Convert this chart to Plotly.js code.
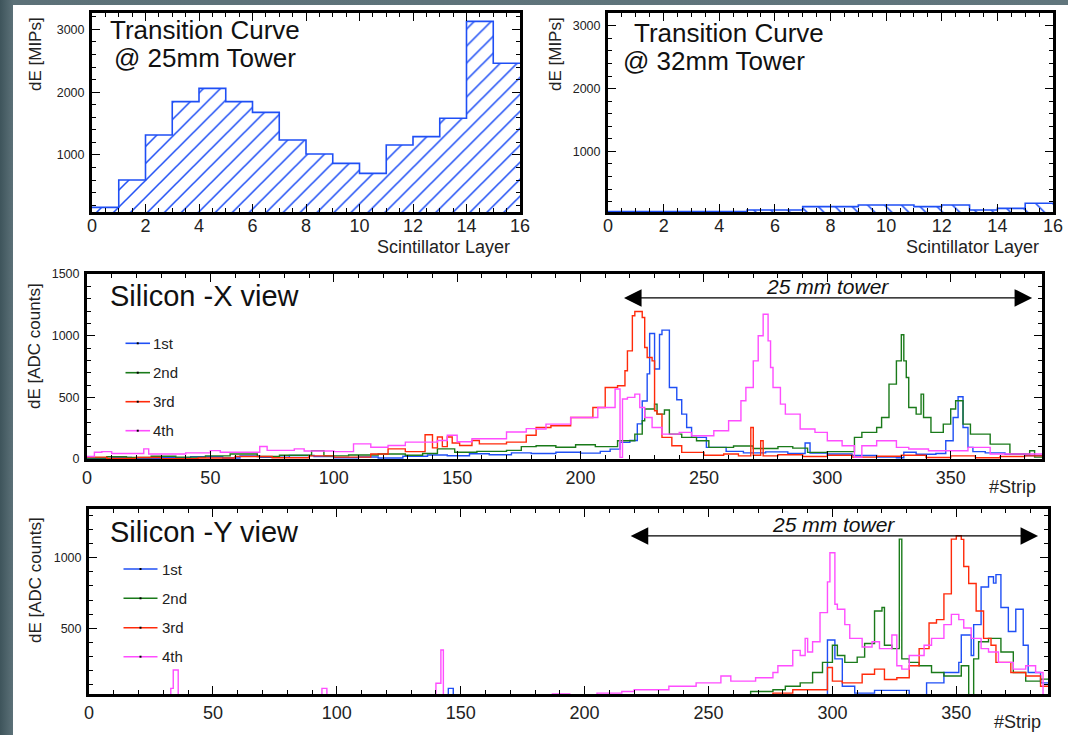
<!DOCTYPE html>
<html><head><meta charset="utf-8">
<script src="https://cdn.plot.ly/plotly-3.0.1.min.js"></script>
<style>
html,body{margin:0;padding:0;width:1068px;height:735px;overflow:hidden;}
body{background:linear-gradient(90deg,#3e545b 0px,#5c7178 13px,#61767d 100%);}
#sheet{position:absolute;left:13px;top:5px;right:0;bottom:0;background:#fff;}
#chart{position:absolute;left:0;top:0;width:1068px;height:735px;}
</style></head><body>
<div id="sheet"></div><div id="chart"></div>
<script>
// ---------- data ----------
const layerEdges = [0,1,2,3,4,5,6,7,8,9,10,11,12,13,14,15,16];
const tc25mm = [167,602,1318,1849,2061,1849,1679,1239,1016,867,708,1159,1292,1584,3127,2459];
const tc32mm = [40,40,40,40,40,67,67,120,120,147,147,120,147,67,93,173];

const seriesNames = ['1st','2nd','3rd','4th'];
const seriesColors = ['#1f4ff5','#1a7a1a','#ff2a0a','#ff4dff'];

// Silicon X view (step breakpoints: strip, dE)
const xv1stStrip = [0,10,18,30,42,55,62,70,82,92,100,110,118,128,138,146,155,163,172,180,190,200,208,212,216,220,223,225,227,228,230,232,233,236,239,241,243,245,251,259,266,275,284,291,293,300,310,320,328,331,336,344,348,351,353,355,357,359,364,372,380,387];
const xv1stADC   = [5,12,4,10,18,8,25,14,28,20,10,16,8,22,32,26,42,35,50,45,55,48,62,80,135,150,285,470,690,1018,730,1010,1045,580,480,364,256,175,94,62,50,58,45,130,48,40,28,15,10,55,38,45,148,337,505,256,94,60,50,38,28,28];
const xv2ndStrip = [0,8,16,26,36,48,58,69,78,91,96,106,118,129,136,142,149,158,170,176,182,190,198,206,215,222,225,226,230,231,234,236,241,247,252,262,270,280,286,292,300,311,314,320,322,325,328,330,331,332,333,336,338,339,342,347,350,352,355,358,366,374,382,384,387];
const xv2ndADC   = [8,18,12,22,15,25,41,20,30,68,25,32,41,30,45,82,55,62,70,100,108,95,115,100,148,202,310,405,445,364,397,202,175,148,94,105,85,100,88,54,60,175,216,256,337,607,796,1007,796,661,418,364,526,337,216,283,405,472,283,202,121,40,67,15,15];
const xv3rdStrip = [0,8,20,30,45,60,75,90,100,115,122,129,137,140,142,144,146,148,151,156,159,170,178,182,188,196,205,210,215,218,219,221,222,225,226,227,229,230,231,233,237,241,250,258,264,269,270,273,274,280,290,300,310,320,330,340,350,360,370,380,387];
const xv3rdADC   = [15,5,12,3,8,20,10,25,15,41,82,60,197,90,178,100,178,130,109,150,123,137,192,256,270,337,418,580,594,715,877,1161,1196,1147,904,823,796,391,364,175,108,54,30,40,25,256,30,148,25,35,20,30,15,22,30,12,25,10,20,25,25];
const xv4thStrip = [0,3,6,10,23,25,40,50,54,70,73,84,88,100,108,115,122,129,142,146,150,156,170,178,182,186,196,207,214,216,217,219,222,224,226,229,233,240,245,254,260,265,267,270,272,274,276,277,278,281,283,289,295,300,306,311,314,320,328,333,341,357,366,387];
const xv4thADC   = [20,55,60,45,82,41,50,68,55,101,70,82,65,60,123,95,109,137,150,192,140,164,219,246,243,283,337,418,567,13,486,500,526,418,337,256,202,216,189,229,310,472,580,796,999,1174,958,742,580,445,364,243,216,148,108,13,108,148,94,81,67,94,40,40];

// Silicon Y view
const yv1stStrip = [0,20,21,145,147,224,229,262,268,287,298,301,304,309,317,331,338,345,351,352,356,357,360,363,365,366,368,371,374,377,379,384,387];
const yv1stADC   = [0,20,0,75,0,30,0,15,0,17,417,284,90,41,61,17,114,187,259,453,308,526,793,865,820,880,647,478,635,380,187,114,114];
const yv2ndStrip = [0,234,240,259,267,276,281,287,292,296,300,302,305,310,313,317,320,321,324,327,328,331,335,340,345,352,355,357,359,363,368,373,378,384,387];
const yv2ndADC   = [0,10,5,29,53,65,90,114,187,259,380,308,259,296,393,623,647,380,356,1132,284,259,235,187,162,235,0,284,405,429,332,187,126,140,140];
const yv3rdStrip = [0,248,256,276,284,298,300,304,312,317,321,326,331,335,339,342,345,348,350,352,353,355,358,361,364,366,372,378,384,387];
const yv3rdADC   = [0,29,10,41,65,223,126,114,175,211,138,150,235,356,538,562,744,1132,1156,1130,938,817,623,429,380,259,187,162,90,90];
const yv4thStrip = [0,33,34,36,94,96,140,142,143,156,157,166,167,175,178,187,194,205,215,220,234,245,255,259,269,276,278,284,287,289,290,292,295,298,299,301,302,305,307,312,316,319,324,326,328,331,337,340,345,348,351,353,356,360,363,367,373,378,382,385,387];
const yv4thADC   = [0,75,205,0,75,0,111,347,0,30,0,20,0,20,17,35,17,41,53,65,90,114,162,126,150,187,235,344,308,429,332,405,611,829,1035,671,635,526,429,368,405,356,453,235,211,308,380,429,526,599,562,502,429,356,332,259,211,235,187,0,0];

const towerXStrips = [217, 383];
const towerYStrips = [218, 383];
const towerXLevel = 1306;
const towerYLevel = 1154;

// ---------- helpers ----------
const W = 1068, H = 735;
const px = v => v / W;
const py = v => 1 - v / H;
const FONT = 'Liberation Sans, Arial, Helvetica, sans-serif';

function histTraces(vals, ax, ay, shape) {
  const centers = layerEdges.slice(0, -1).map(e => e + 0.5);
  return [
    {type:'bar', x:centers, y:vals, width:1, xaxis:ax, yaxis:ay, hoverinfo:'x+y',
     marker:{color:'rgba(0,0,0,0)', line:{width:0},
       pattern:{shape:shape, fgcolor:'#1f4ff5', fgopacity:1, bgcolor:'rgba(0,0,0,0)', size:12, solidity:0.13, fillmode:'overlay'}}},
    {type:'scatter', mode:'lines', x:layerEdges, y:vals.concat([vals[vals.length-1]]), xaxis:ax, yaxis:ay,
     line:{shape:'hv', color:'#1f4ff5', width:1.6}, hoverinfo:'skip'}
  ];
}
function stripTrace(xs, ys, i, ax, ay) {
  return {type:'scatter', mode:'lines', name:seriesNames[i], x:xs, y:ys, xaxis:ax, yaxis:ay,
    line:{shape:'hv', color:seriesColors[i], width:1.4}};
}

const traces = []
  .concat(histTraces(tc25mm, 'x', 'y', '/'))
  .concat(histTraces(tc32mm, 'x2', 'y2', '\\'))
  .concat([
    stripTrace(xv1stStrip, xv1stADC, 0, 'x3', 'y3'),
    stripTrace(xv2ndStrip, xv2ndADC, 1, 'x3', 'y3'),
    stripTrace(xv3rdStrip, xv3rdADC, 2, 'x3', 'y3'),
    stripTrace(xv4thStrip, xv4thADC, 3, 'x3', 'y3'),
    stripTrace(yv1stStrip, yv1stADC, 0, 'x4', 'y4'),
    stripTrace(yv2ndStrip, yv2ndADC, 1, 'x4', 'y4'),
    stripTrace(yv3rdStrip, yv3rdADC, 2, 'x4', 'y4'),
    stripTrace(yv4thStrip, yv4thADC, 3, 'x4', 'y4')
  ]);

function axis(extra, minorDtick, fontSize, standoff) {
  return Object.assign({
    showline:true, linecolor:'black', linewidth:3, mirror:'ticks',
    ticks:'inside', ticklen:8, tickwidth:1, tickcolor:'black',
    showgrid:false, zeroline:false, ticklabelstandoff:standoff,
    tickfont:{family:FONT, size:fontSize, color:'#222'},
    minor:{ticks:'inside', ticklen:4, tickwidth:1, tickcolor:'black', dtick:minorDtick, showgrid:false}
  }, extra);
}

const layout = {
  width:W, height:H, margin:{l:0,r:0,t:0,b:0},
  paper_bgcolor:'rgba(0,0,0,0)', plot_bgcolor:'white',
  showlegend:false, bargap:0, barmode:'overlay',
  font:{family:FONT, color:'#111'},
  xaxis: axis({domain:[px(92), px(520)], range:[0,16], dtick:2, tick0:0, anchor:'y'}, 0.5, 18, -5),
  yaxis: axis({domain:[py(212.3), py(13.3)], range:[88,3255], dtick:1000, tick0:0, anchor:'x'}, 200, 12.5, 2),
  xaxis2: axis({domain:[px(608), px(1053)], range:[0,16], dtick:2, tick0:0, anchor:'y2'}, 0.5, 18, -5),
  yaxis2: axis({domain:[py(212.3), py(13.3)], range:[30,3200], dtick:1000, tick0:0, anchor:'x2'}, 200, 12.5, 2),
  xaxis3: axis({domain:[px(87), px(1042)], range:[0,387], dtick:50, tick0:0, anchor:'y3'}, 10, 18, 0),
  yaxis3: axis({domain:[py(459), py(274)], range:[0,1500], dtick:500, tick0:0, anchor:'x3'}, 100, 12.5, 2),
  xaxis4: axis({domain:[px(89), px(1048)], range:[0,387], dtick:50, tick0:0, anchor:'y4'}, 10, 18, 0),
  yaxis4: axis({domain:[py(694), py(509)], range:[35,1345], dtick:500, tick0:0, anchor:'x4'}, 100, 12.5, 2),
  annotations: [],
  shapes: []
};

function txt(text, x, y, size, opts) {
  layout.annotations.push(Object.assign({
    text:text, xref:'paper', yref:'paper', x:px(x), y:py(y), showarrow:false,
    xanchor:'left', yanchor:'middle', font:{family:FONT, size:size, color:'#111'}
  }, opts || {}));
}
const titleFont = {family:FONT, size:18, color:'#222'};
// panel titles
txt('Transition Curve', 108, 30, 26);
txt('@ 25mm Tower', 112, 58.5, 26);
txt('Transition Curve', 632, 32.5, 26);
txt('@ 32mm Tower', 621, 61, 26);
txt('Silicon -X view', 108, 296, 29);
txt('Silicon -Y view', 108, 532, 29);
// axis titles
txt('Scintillator Layer', 512, 247, 18, {xanchor:'right', font:titleFont});
txt('Scintillator Layer', 1041, 247, 18, {xanchor:'right', font:titleFont});
txt('#Strip', 1038, 487, 18, {xanchor:'right', font:titleFont});
txt('#Strip', 1043, 722, 18, {xanchor:'right', font:titleFont});
const yTitleFont = {family:FONT, size:17, color:'#222'};
txt('dE [MIPs]', 36, 54, 17, {xanchor:'center', textangle:-90, font:yTitleFont});
txt('dE [MIPs]', 556, 54, 17, {xanchor:'center', textangle:-90, font:yTitleFont});
txt('dE [ADC counts]', 35, 346, 17, {xanchor:'center', textangle:-90, font:yTitleFont});
txt('dE [ADC counts]', 35, 580, 17, {xanchor:'center', textangle:-90, font:yTitleFont});
// tower arrows
function tower(ax, ay, strips, level, labelY) {
  layout.annotations.push({
    xref:ax, yref:ay, axref:ax, ayref:ay, x:strips[1], y:level, ax:strips[0], ay:level,
    text:'', showarrow:true, arrowside:'end+start', arrowhead:2, startarrowhead:2,
    arrowsize:2.7, startarrowsize:2.7, arrowwidth:1.3, arrowcolor:'black', standoff:0, startstandoff:0
  });
  layout.annotations.push({
    xref:ax, yref:'paper', x:(strips[0]+strips[1])/2, y:py(labelY), showarrow:false,
    text:'<i>25 mm tower</i>', xanchor:'center', yanchor:'middle',
    font:{family:FONT, size:21, color:'#111'}
  });
}
tower('x3','y3', towerXStrips, towerXLevel, 286);
tower('x4','y4', towerYStrips, towerYLevel, 524);
// legends
function legend(x0, x1, textX, ys) {
  ys.forEach((y, i) => {
    layout.shapes.push({type:'line', xref:'paper', yref:'paper', x0:px(x0), x1:px(x1), y0:py(y), y1:py(y),
      line:{color:seriesColors[i], width:1.6}});
    layout.shapes.push({type:'rect', xref:'paper', yref:'paper', x0:px((x0+x1)/2-1), x1:px((x0+x1)/2+1),
      y0:py(y+1), y1:py(y-1), line:{width:0}, fillcolor:'black'});
    txt(seriesNames[i], textX, y, 15, {font:{family:FONT,size:15,color:'#222'}});
  });
}
legend(125.5, 150, 151, [343.3, 372.7, 401.7, 430.7]);
legend(123.5, 157.5, 160, [569, 598.3, 627.7, 656.7]);

Plotly.newPlot('chart', traces, layout, {staticPlot:true, displayModeBar:false});
</script></body></html>
